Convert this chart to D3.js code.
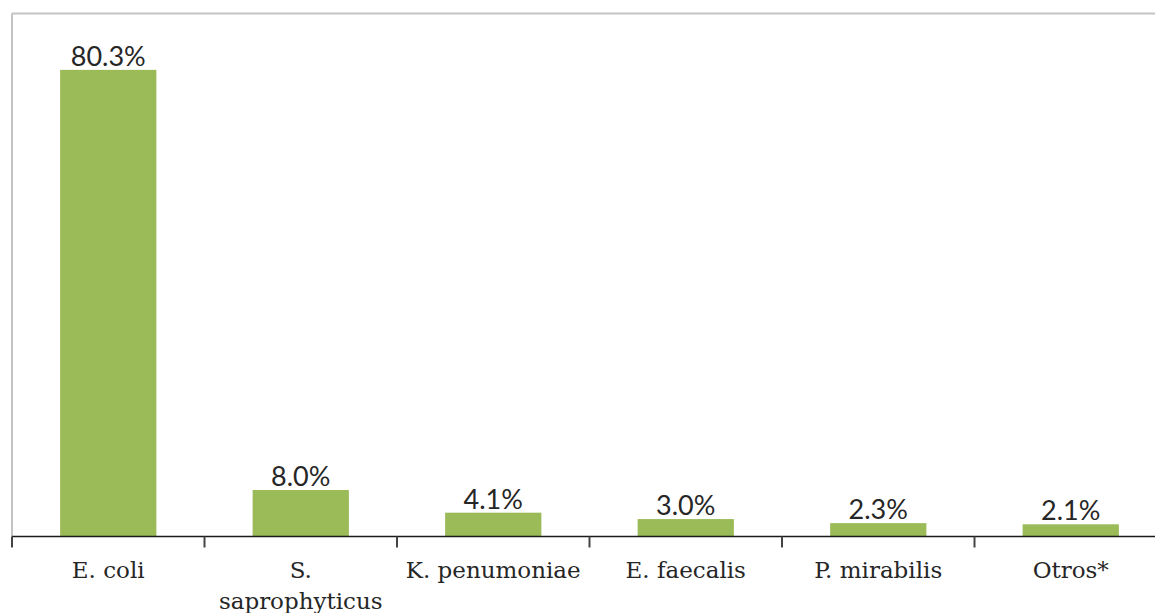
<!DOCTYPE html>
<html>
<head>
<meta charset="utf-8">
<script src="https://cdn.jsdelivr.net/npm/d3@7"></script>
<style>
  html, body { margin: 0; padding: 0; background: #fff; }
  svg { display: block; }
  text { fill: #262626; }
  .cat { font-family: "DejaVu Serif", serif; }
  .val { font-family: Lato, "Open Sans", sans-serif; }
</style>
</head>
<body>
<svg id="chart" width="1155" height="613"></svg>
<script>
// Uropathogens isolated (% of cultures)
const categories = ["E. coli", "S. saprophyticus", "K. penumoniae", "E. faecalis", "P. mirabilis", "Otros*"];
const categoryLines = [["E. coli"], ["S.", "saprophyticus"], ["K. penumoniae"], ["E. faecalis"], ["P. mirabilis"], ["Otros*"]];
const values = [80.3, 8.0, 4.1, 3.0, 2.3, 2.1];
const valueLabels = ["80.3%", "8.0%", "4.1%", "3.0%", "2.3%", "2.1%"];
const yDomain = [0, 90];

const svg = d3.select("#chart");
const plotLeft = 12, plotTop = 13.5, plotBottom = 536.5;
const plotRight = plotLeft + 6 * 192.5;

const x = d3.scaleBand()
  .domain(categories)
  .range([plotLeft, plotRight])
  .paddingInner(0.5)
  .paddingOuter(0.25);

const y = d3.scaleLinear().domain(yDomain).range([plotBottom, plotTop]);

// plot frame (top and left edges)
svg.append("line")
  .attr("x1", plotLeft).attr("x2", 1155).attr("y1", plotTop).attr("y2", plotTop)
  .attr("stroke", "#c4c4c4").attr("stroke-width", 2);
svg.append("line")
  .attr("x1", plotLeft).attr("x2", plotLeft).attr("y1", plotTop).attr("y2", plotBottom)
  .attr("stroke", "#c4c4c4").attr("stroke-width", 2);

// bars
svg.selectAll("rect.bar")
  .data(values)
  .join("rect")
  .attr("class", "bar")
  .attr("x", (d, i) => x(categories[i]))
  .attr("width", x.bandwidth())
  .attr("y", d => y(d))
  .attr("height", d => y(0) - y(d))
  .attr("fill", "#9bbb59");

// value labels
svg.selectAll("text.val")
  .data(values)
  .join("text")
  .attr("class", "val")
  .attr("x", (d, i) => x(categories[i]) + x.bandwidth() / 2)
  .attr("y", d => y(d) - 4)
  .attr("text-anchor", "middle")
  .attr("font-size", 27)
  .text((d, i) => valueLabels[i]);

// category axis with ticks between categories
const step = x.step();
const boundaries = categories.map(c => x(c) - step * x.paddingInner() / 2);
boundaries.push(x(categories[categories.length - 1]) + x.bandwidth() + step * x.paddingInner() / 2);

svg.append("line")
  .attr("x1", plotLeft).attr("x2", 1155).attr("y1", plotBottom).attr("y2", plotBottom)
  .attr("stroke", "#1a1a1a").attr("stroke-width", 1.5);

svg.selectAll("line.tick")
  .data(boundaries)
  .join("line")
  .attr("class", "tick")
  .attr("x1", d => d).attr("x2", d => d)
  .attr("y1", plotBottom).attr("y2", plotBottom + 11)
  .attr("stroke", "#444").attr("stroke-width", 2);

const catText = svg.selectAll("text.cat")
  .data(categories)
  .join("text")
  .attr("class", "cat")
  .attr("text-anchor", "middle")
  .attr("font-size", 23)
  .attr("x", d => x(d) + x.bandwidth() / 2)
  .attr("y", 578);

catText.each(function(d, i) {
  const t = d3.select(this);
  categoryLines[i].forEach((line, j) => {
    t.append("tspan")
      .attr("x", x(d) + x.bandwidth() / 2)
      .attr("dy", j === 0 ? 0 : 31)
      .text(line);
  });
});
</script>
</body>
</html>
